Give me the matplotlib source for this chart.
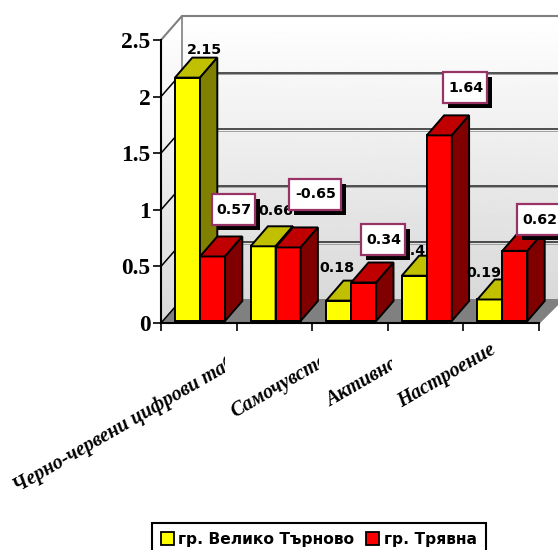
import numpy as np
import matplotlib
matplotlib.use('Agg')
import matplotlib.pyplot as plt
from matplotlib.patches import Polygon, Rectangle, Patch
from matplotlib.transforms import Affine2D, Bbox

WIDTH, HEIGHT = 558, 550

categories = ['Черно-червени цифрови таблици', 'Самочувствие', 'Активност', 'Настроение']
series_names = ['гр. Велико Търново', 'гр. Трявна']
veliko_tarnovo = [2.15, 0.66, 0.18, 0.4, 0.19]
tryavna = [0.57, -0.65, 0.34, 1.64, 0.62]
y_ticks = [0, 0.5, 1, 1.5, 2, 2.5]
y_tick_labels = ['0', '0.5', '1', '1.5', '2', '2.5']

# pixel layout of the plot box and the 3d depth of walls and bars
LEFT, RIGHT, BOTTOM, TOP = 161, 539, 323, 40
WALL_DX, WALL_DY = 21, 24
GROUP_W = (RIGHT - LEFT) / 5
UNIT_H = (BOTTOM - TOP) / 2.5
BAR_OFFSET = 14 / GROUP_W
BAR_W = 25 / GROUP_W
BAR_DX = 17.3 / GROUP_W
BAR_DY = 20 / UNIT_H
BAR_BASE = 2 / UNIT_H

# where the labels go, in pixels from the top left corner
yellow_label_pos = [(204, 50), (276, 211), (337, 268), (413, 251), (484, 273)]
red_box_pos = [(212, 194, 43), (289, 179, 52), (361, 224, 44), (443, 72, 44), (517, 204, 44)]
category_pos = [(17, 493, 225), (235, 418, 319), (330, 407, 392), (402, 408, 520)]

plt.rcParams['font.family'] = ['DejaVu Sans']

px = Affine2D().scale(1, -1).translate(0, HEIGHT)


def prism(ax, x, width, height, front, top, side, z):
    y0, y1 = BAR_BASE, BAR_BASE + height
    x1 = x + width
    faces = [
        ([(x, y0), (x1, y0), (x1, y1), (x, y1)], front),
        ([(x, y1), (x1, y1), (x1 + BAR_DX, y1 + BAR_DY), (x + BAR_DX, y1 + BAR_DY)], top),
        ([(x1, y0), (x1 + BAR_DX, y0 + BAR_DY), (x1 + BAR_DX, y1 + BAR_DY), (x1, y1)], side),
    ]
    for pts, color in faces:
        ax.add_patch(Polygon(pts, closed=True, facecolor=color, edgecolor='black',
                             linewidth=1.4, joinstyle='miter', clip_on=False, zorder=z))


def draw_walls(ax):
    back_l, back_t, back_b = LEFT + WALL_DX, TOP - WALL_DY, BOTTOM - WALL_DY
    shade = np.linspace(1.0, 0.85, 200).reshape(-1, 1)
    # back wall and side wall both fade from white to light grey
    img = ax.imshow(shade, cmap='gray', vmin=0, vmax=1, aspect='auto', zorder=1,
                    transform=px, extent=(back_l, WIDTH + 5, back_b, back_t))
    img.set_clip_path(Rectangle((back_l, back_t), WIDTH - back_l + 5, back_b - back_t, transform=px))
    img2 = ax.imshow(shade, cmap='gray', vmin=0, vmax=1, aspect='auto', zorder=1,
                     transform=px, extent=(LEFT, back_l, BOTTOM, back_t))
    img2.set_clip_path(Polygon([(LEFT, TOP), (back_l, back_t), (back_l, back_b), (LEFT, BOTTOM)],
                               closed=True, transform=px))
    ax.set_xlim(0, 5)
    ax.set_ylim(0, 2.5)

    floor = [(LEFT, BOTTOM), (back_l, back_b), (RIGHT + 24, back_b), (RIGHT, BOTTOM)]
    ax.add_patch(Polygon(floor, closed=True, facecolor='#808080', edgecolor='none',
                         transform=px, clip_on=False, zorder=2))

    for tick in y_ticks[:-1]:
        y = BOTTOM - tick * UNIT_H
        ax.plot([LEFT, back_l], [y, y - WALL_DY], color='black', lw=1.1, transform=px,
                clip_on=False, zorder=3)
        if tick > 0:
            ax.plot([back_l, WIDTH + 5], [y - WALL_DY, y - WALL_DY], color='#222222', lw=1.1,
                    transform=px, clip_on=False, zorder=3)
            ax.plot([back_l, WIDTH + 5], [y - WALL_DY + 1.4, y - WALL_DY + 1.4], color='#a0a0a0',
                    lw=0.7, transform=px, clip_on=False, zorder=3)
    ax.plot([LEFT, back_l, WIDTH + 5], [TOP, back_t, back_t], color='#808080', lw=1.5,
            transform=px, clip_on=False, zorder=3)
    ax.plot([back_l, back_l], [back_t, back_b], color='#808080', lw=1.2, transform=px,
            clip_on=False, zorder=3)
    ax.plot([RIGHT, RIGHT + 24], [BOTTOM, back_b], color='#808080', lw=1.2, transform=px,
            clip_on=False, zorder=3)


def draw_bars(ax):
    for i in range(len(veliko_tarnovo)):
        x = i + BAR_OFFSET
        prism(ax, x, BAR_W, veliko_tarnovo[i], '#FFFF00', '#C0C000', '#808000', 5 + i)
        # bar height is the size of the change, the label keeps its sign
        prism(ax, x + BAR_W, BAR_W, abs(tryavna[i]), '#FF0000', '#C00000', '#800000', 5 + i)


def draw_labels(ax):
    for value, (x, y) in zip(veliko_tarnovo, yellow_label_pos):
        ax.text(x, y, f'{value:g}', transform=px, ha='center', va='center', fontsize=10.3,
                fontweight='bold', color='black', clip_on=False, zorder=12)
    for value, (x, y, w) in zip(tryavna, red_box_pos):
        ax.add_patch(Rectangle((x + 4.5, y + 4.5), w, 31, facecolor='black', edgecolor='none',
                               transform=px, clip_on=False, zorder=13))
        ax.add_patch(Rectangle((x, y), w, 31, facecolor='white', edgecolor='#993366', lw=1.6,
                               transform=px, clip_on=False, zorder=13))
        ax.text(x + w / 2 + 0.5, y + 15.5, f'{value:g}', transform=px, ha='center', va='center',
                fontsize=10.3, fontweight='bold', color='black', clip_on=False, zorder=13)


def draw_categories(ax):
    for name, (x, y, limit) in zip(categories, category_pos):
        t = ax.text(x, y, name, transform=px, rotation=30, rotation_mode='anchor', ha='left',
                    va='baseline', family='Liberation Serif', fontsize=14.4, fontweight='bold',
                    fontstyle='italic', color='black', zorder=12)
        # long names get cut off at the end of their slot
        t.set_clip_box(Bbox([[0, 0], [limit, HEIGHT]]))
        t.set_clip_on(True)


def plot():
    fig = plt.figure(figsize=(WIDTH / 100, HEIGHT / 100), dpi=100, facecolor='white')
    ax = fig.add_axes([LEFT / WIDTH, 1 - BOTTOM / HEIGHT, (RIGHT - LEFT) / WIDTH,
                       (BOTTOM - TOP) / HEIGHT])
    ax.patch.set_visible(False)
    for name in ('top', 'right'):
        ax.spines[name].set_visible(False)
    for name in ('left', 'bottom'):
        ax.spines[name].set_linewidth(1.5)
        ax.spines[name].set_zorder(10)

    draw_walls(ax)
    draw_bars(ax)
    draw_labels(ax)
    draw_categories(ax)

    ax.set_xticks(range(6))
    ax.set_xticklabels([])
    ax.set_yticks(y_ticks)
    ax.set_yticklabels(y_tick_labels, family='Liberation Serif', fontweight='bold', fontsize=16.8)
    ax.tick_params(axis='both', length=5.5, width=1.2, color='black', pad=2)

    handles = [Patch(facecolor='#FFFF00', edgecolor='black', lw=1.3),
               Patch(facecolor='#FF0000', edgecolor='black', lw=1.3)]
    leg = fig.legend(handles, series_names, loc='upper left',
                     bbox_to_anchor=(152 / WIDTH, 1 - 523 / HEIGHT), ncol=2, fancybox=False,
                     framealpha=1, edgecolor='black', borderaxespad=0, handlelength=0.85,
                     handleheight=0.9, handletextpad=0.3, columnspacing=0.75, borderpad=0.55,
                     prop={'weight': 'bold', 'size': 11.2})
    leg.get_frame().set_linewidth(1.5)

    fig.savefig('out.png', dpi=100)


if __name__ == '__main__':
    plot()
